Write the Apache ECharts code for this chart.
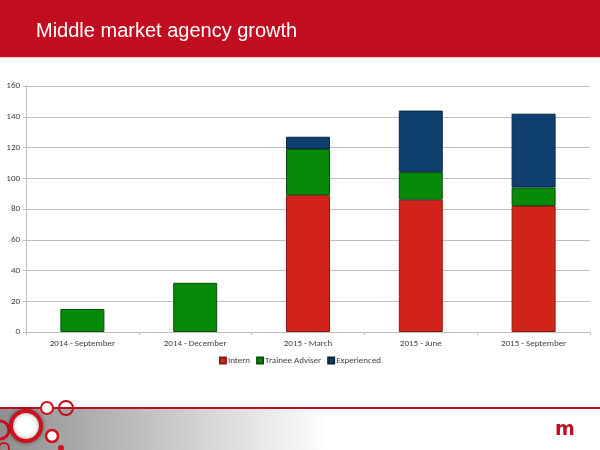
<!DOCTYPE html>
<html>
<head>
<meta charset="utf-8">
<script src="https://cdn.jsdelivr.net/npm/echarts@6/dist/echarts.min.js"></script>
<style>html,body{margin:0;padding:0;background:#fff}#c{width:600px;height:450px}</style>
</head>
<body>
<div id="c"></div>
<script>
var categories = ['2014 - September', '2014 - December', '2015 - March', '2015 - June', '2015 - September'];
var intern = [0, 0, 89, 86, 82];
var trainee = [15, 32, 30, 18, 12];
var experienced = [0, 0, 8, 40, 48];
var yTicks = [0, 20, 40, 60, 80, 100, 120, 140, 160];
var title = 'Middle market agency growth';

function nz(arr) { return arr.map(function (v) { return v === 0 ? '-' : v; }); }
function segStyle(base, border) {
  return {color: base, borderColor: border, borderWidth: 1};
}
var font = 'Carlito, "Open Sans", "Liberation Sans", sans-serif';
var chart = echarts.init(document.getElementById('c'), null, {renderer: 'canvas'});
var option = {
  animation: false,
  backgroundColor: '#ffffff',
  grid: {left: 26, right: 10, top: 86, bottom: 118, containLabel: false},
  legend: {
    data: ['Intern', 'Trainee Adviser', 'Experienced'],
    top: 351, left: 'center', icon: 'rect', itemWidth: 6, itemHeight: 6, itemGap: 6,
    textStyle: {fontSize: 9, color: '#404040', fontFamily: font, padding: [0, 0, 0, -3]}
  },
  xAxis: {
    type: 'category', data: categories,
    axisLine: {lineStyle: {color: '#BFBFBF'}},
    axisTick: {show: true, alignWithLabel: false, length: 3, lineStyle: {color: '#BFBFBF'}},
    axisLabel: {fontSize: 9, color: '#404040', fontFamily: font, margin: 7}
  },
  yAxis: {
    type: 'value', min: yTicks[0], max: yTicks[yTicks.length - 1], interval: 20,
    axisLine: {show: true, lineStyle: {color: '#BFBFBF'}},
    axisTick: {show: true, length: 3, lineStyle: {color: '#BFBFBF'}},
    splitLine: {lineStyle: {color: '#BFBFBF'}},
    axisLabel: {fontSize: 9, color: '#404040', fontFamily: font, margin: 6}
  },
  series: [
    {name: 'Intern', type: 'bar', stack: 'a', barWidth: '39%', data: nz(intern),
      itemStyle: segStyle('#D2231A', '#8A1A14')},
    {name: 'Trainee Adviser', type: 'bar', stack: 'a', data: nz(trainee),
      itemStyle: segStyle('#078A07', '#06500A')},
    {name: 'Experienced', type: 'bar', stack: 'a', data: nz(experienced),
      itemStyle: segStyle('#0E3F6E', '#0A2742')}
  ],
  graphic: [
    {type: 'rect', left: 0, top: 0, shape: {width: 600, height: 57}, style: {fill: '#C00E20'}, z: 10},
    {type: 'rect', left: 0, top: 57, shape: {width: 600, height: 1}, style: {fill: '#F3C0C4'}, z: 10},
    {type: 'text', left: 36, top: 21, style: {text: title, fill: '#ffffff', fontSize: 20, fontFamily: '"Liberation Sans", Arial, sans-serif'}, z: 11},
    {type: 'rect', left: 0, top: 409, shape: {width: 600, height: 41}, z: 10,
      style: {fill: {type: 'linear', x: 0, y: 0, x2: 1, y2: 0, colorStops: [
        {offset: 0, color: '#8f8f8f'}, {offset: 0.55, color: '#ffffff'}, {offset: 1, color: '#ffffff'}]}}},
    {type: 'rect', left: 0, top: 407, shape: {width: 600, height: 2}, style: {fill: '#C00E20'}, z: 11},
    {type: 'circle', shape: {cx: 0, cy: 430, r: 9}, style: {fill: 'none', stroke: '#D0101F', lineWidth: 3}, z: 12},
    {type: 'circle', shape: {cx: 26, cy: 426, r: 15}, style: {fill: '#ffffff', stroke: '#D0101F', lineWidth: 4, shadowBlur: 4, shadowColor: 'rgba(0,0,0,0.4)'}, z: 12},
    {type: 'circle', shape: {cx: 47, cy: 408, r: 6}, style: {fill: '#ffffff', stroke: '#D0101F', lineWidth: 2}, z: 12},
    {type: 'circle', shape: {cx: 66, cy: 408, r: 7}, style: {fill: 'none', stroke: '#C00E20', lineWidth: 2}, z: 12},
    {type: 'circle', shape: {cx: 52, cy: 436, r: 6}, style: {fill: '#ffffff', stroke: '#D0101F', lineWidth: 2.5}, z: 12},
    {type: 'circle', shape: {cx: 61, cy: 448, r: 3}, style: {fill: '#D0101F'}, z: 12},
    {type: 'circle', shape: {cx: 4, cy: 448, r: 5}, style: {fill: 'none', stroke: '#D0101F', lineWidth: 2}, z: 12},
    {type: 'text', left: 555, top: 421, style: {text: 'm', fill: '#C00E20', fontSize: 19, fontWeight: 'bold', fontFamily: '"DejaVu Sans", sans-serif'}, z: 12}
  ]
};
chart.setOption(option);
</script>
</body>
</html>
